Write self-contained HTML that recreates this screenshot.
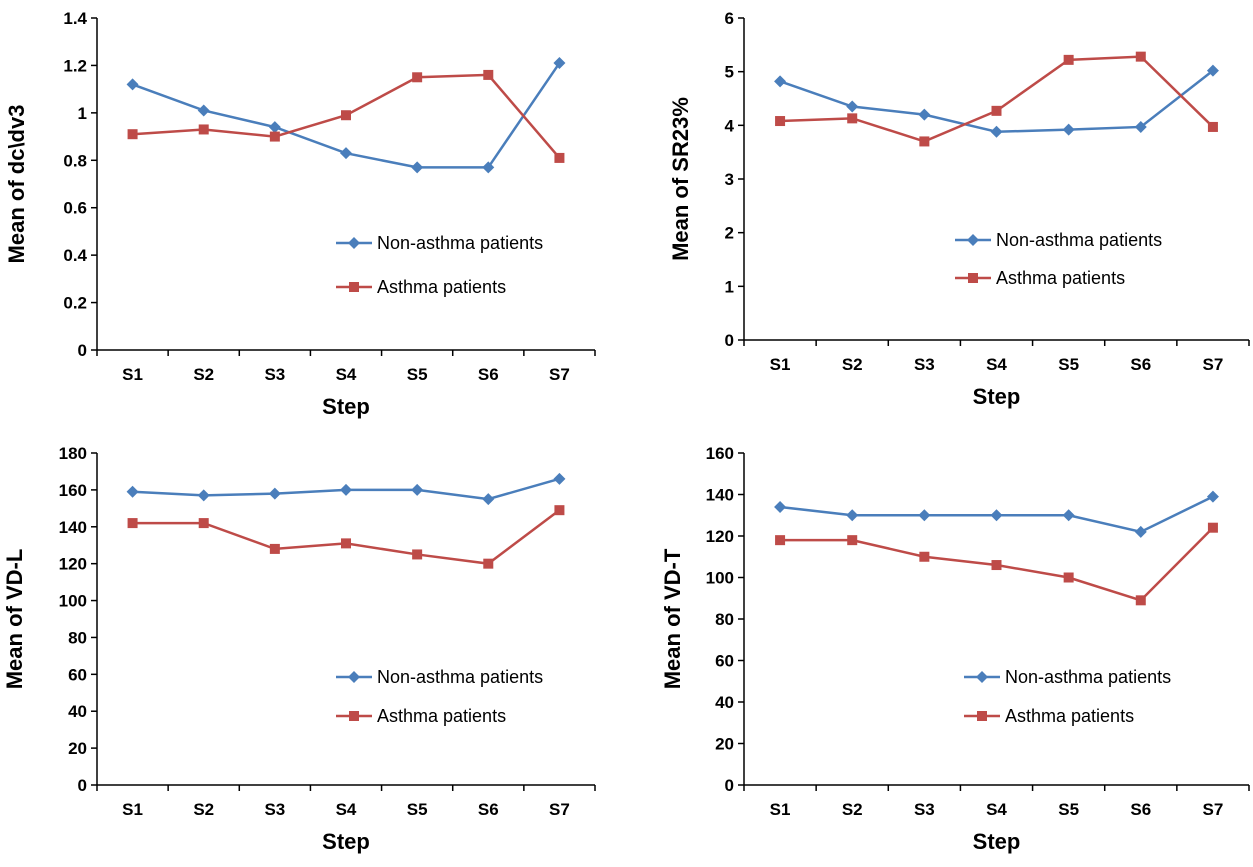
<!DOCTYPE html>
<html><head><meta charset="utf-8"><style>
body{margin:0;background:#fff;}
svg{display:block;font-family:"Liberation Sans",Arial,sans-serif;}
</style></head><body>
<svg id="c" width="1253" height="867"></svg>
<script>
const categories=["S1","S2","S3","S4","S5","S6","S7"];
const dcBlue=[1.12,1.01,0.94,0.83,0.77,0.77,1.21];
const dcRed=[0.91,0.93,0.90,0.99,1.15,1.16,0.81];
const srBlue=[4.82,4.35,4.2,3.88,3.92,3.97,5.02];
const srRed=[4.08,4.13,3.7,4.27,5.22,5.28,3.97];
const vdlBlue=[159,157,158,160,160,155,166];
const vdlRed=[142,142,128,131,125,120,149];
const vdtBlue=[134,130,130,130,130,122,139];
const vdtRed=[118,118,110,106,100,89,124];
const dcTicks=["0","0.2","0.4","0.6","0.8","1","1.2","1.4"];
const srTicks=["0","1","2","3","4","5","6"];
const vdlTicks=["0","20","40","60","80","100","120","140","160","180"];
const vdtTicks=["0","20","40","60","80","100","120","140","160"];
const NS="http://www.w3.org/2000/svg";
const svg=document.getElementById('c');
function mk(tag,attrs,parent,text){const e=document.createElementNS(NS,tag);for(const k in attrs)e.setAttribute(k,attrs[k]);if(text!==undefined)e.textContent=text;(parent||svg).appendChild(e);return e;}
function panel(cfg){
  const g=mk('g',{});
  
  
  const max=parseFloat(cfg.ticks[cfg.ticks.length-1]);
  const y=v=>cfg.y0-(v/max)*(cfg.y0-cfg.yTop);
  const step=(cfg.x1-cfg.x0)/categories.length;
  const x=i=>cfg.x0+step*(i+0.5);
  const ax=mk('line',{x1:cfg.x0,y1:cfg.yTop,x2:cfg.x0,y2:cfg.y0,stroke:'#000','stroke-width':1.5},g);
  
  const xa=mk('line',{x1:cfg.x0,y1:cfg.y0,x2:cfg.x1,y2:cfg.y0,stroke:'#000','stroke-width':1.5},g);
  
  cfg.ticks.forEach(t=>{const v=parseFloat(t);const yy=y(v);
    mk('line',{x1:cfg.x0-6,y1:yy,x2:cfg.x0,y2:yy,stroke:'#000','stroke-width':1.5},g);
    const tl=mk('text',{x:cfg.x0-10,y:yy+6,'text-anchor':'end','font-size':17,'font-weight':'bold'},g,t);
    });
  for(let i=0;i<=categories.length;i++){const xx=cfg.x0+step*i;mk('line',{x1:xx,y1:cfg.y0,x2:xx,y2:cfg.y0+6,stroke:'#000','stroke-width':1.5},g);}
  categories.forEach((c,i)=>{const tl=mk('text',{x:x(i),y:cfg.y0+30,'text-anchor':'middle','font-size':17,'font-weight':'bold'},g,c);
    });
  const xt=mk('text',{x:(cfg.x0+cfg.x1)/2,y:cfg.y0+64,'text-anchor':'middle','font-size':22,'font-weight':'bold'},g,'Step');
  
  const cy=(cfg.y0+cfg.yTop)/2;
  const yt=mk('text',{x:cfg.ytx,y:cy,'text-anchor':'middle','font-size':22,'font-weight':'bold',transform:`rotate(-90 ${cfg.ytx} ${cy})`},g,cfg.title);
  
  const series=[{d:cfg.blue,c:'#4a7ebb',sq:false,n:'Non-asthma patients',ly:cfg.ly1},{d:cfg.red,c:'#be4b48',sq:true,n:'Asthma patients',ly:cfg.ly2}];
  series.forEach(s=>{
    const pl=mk('polyline',{points:s.d.map((v,i)=>x(i)+','+y(v)).join(' '),fill:'none',stroke:s.c,'stroke-width':2.5},g);
    
    s.d.forEach((v,i)=>{let m;
      if(s.sq)m=mk('rect',{x:x(i)-5,y:y(v)-5,width:10,height:10,fill:s.c},g);
      else m=mk('polygon',{points:`${x(i)},${y(v)-6} ${x(i)+6},${y(v)} ${x(i)},${y(v)+6} ${x(i)-6},${y(v)}`,fill:s.c},g);
      });
    const lx=cfg.lx;
    mk('line',{x1:lx,y1:s.ly,x2:lx+36,y2:s.ly,stroke:s.c,'stroke-width':2.5},g);
    if(s.sq)mk('rect',{x:lx+13,y:s.ly-5,width:10,height:10,fill:s.c},g);
    else mk('polygon',{points:`${lx+18},${s.ly-6} ${lx+24},${s.ly} ${lx+18},${s.ly+6} ${lx+12},${s.ly}`,fill:s.c},g);
    const lt=mk('text',{x:lx+41,y:s.ly+6,'font-size':18},g,s.n);
    
  });
}
panel({name:'dc-dv3-panel',title:'Mean of dc\\dv3',ticks:dcTicks,blue:dcBlue,red:dcRed,x0:97,x1:595,y0:350,yTop:18,ytx:24,lx:336,ly1:243,ly2:287});
panel({name:'sr23-panel',title:'Mean of SR23%',ticks:srTicks,blue:srBlue,red:srRed,x0:744,x1:1249,y0:340,yTop:18,ytx:688,lx:955,ly1:240,ly2:278});
panel({name:'vd-l-panel',title:'Mean of VD-L',ticks:vdlTicks,blue:vdlBlue,red:vdlRed,x0:97,x1:595,y0:785,yTop:453,ytx:22,lx:336,ly1:677,ly2:716});
panel({name:'vd-t-panel',title:'Mean of VD-T',ticks:vdtTicks,blue:vdtBlue,red:vdtRed,x0:744,x1:1249,y0:785,yTop:453,ytx:680,lx:964,ly1:677,ly2:716});
</script>
</body></html>
